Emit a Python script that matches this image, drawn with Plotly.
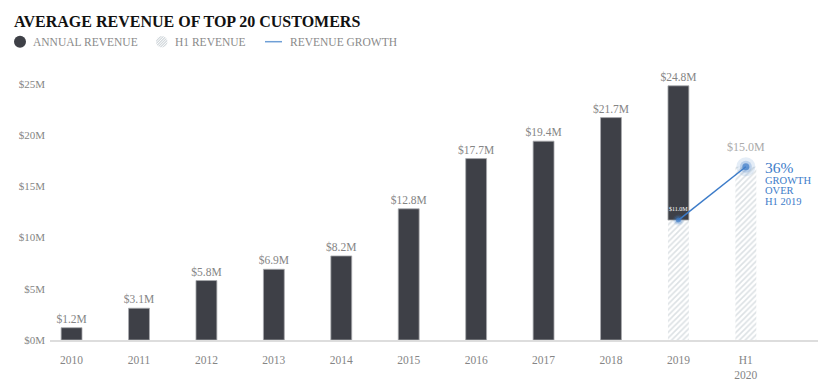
import plotly.graph_objects as go

# ---------------- data ----------------
categories = ["2010", "2011", "2012", "2013", "2014", "2015", "2016", "2017", "2018", "2019", "H1<br>2020"]
annual_years = ["2010", "2011", "2012", "2013", "2014", "2015", "2016", "2017", "2018", "2019"]
annual_revenue = [1.2, 3.1, 5.8, 6.9, 8.2, 12.8, 17.7, 19.4, 21.7, 24.8]
h1_periods = ["2019", "H1<br>2020"]
h1_revenue = [11.7, 16.9]          # bar heights as drawn in the picture
h1_labels = ["$11.0M", "$15.0M"]   # labels as printed
growth_text = "36%"
growth_sub = ["GROWTH", "OVER", "H1 2019"]
y_ticks = [0, 5, 10, 15, 20, 25]
y_tick_labels = ["$0M", "$5M", "$10M", "$15M", "$20M", "$25M"]

# ---------------- styling ----------------
FONT = "Liberation Serif"
DARK = "#3e4047"
HATCH = "#b9c3c9"
BLUE = "#3d7cc9"
GREY = "#858585"

OFF = 8                      # page body margin
PAGE_W, PAGE_H = 834, 387
W, H = PAGE_W - OFF, PAGE_H - OFF
# plot area in page pixels: x 50..818, y ..340
L, R, T, B = 50 - OFF, PAGE_W - 818, 68 - OFF, PAGE_H - 340
PW, PH = W - L - R, H - T - B


def px(x):  # page x pixel -> paper
    return (x - OFF - L) / PW


def py(y):  # page y pixel -> paper
    return (PAGE_H - B - y) / PH


h1_map = dict(zip(h1_periods, h1_revenue))
bases = [h1_map.get(c, 0) for c in annual_years]
lengths = [v - b for v, b in zip(annual_revenue, bases)]

fig = go.Figure()

fig.add_trace(go.Bar(
    x=h1_periods, y=h1_revenue, width=0.31, showlegend=False,
    marker=dict(color="white", line=dict(width=0),
                pattern=dict(shape="/", fgcolor=HATCH, bgcolor="white", size=4, solidity=0.4)),
    hoverinfo="skip",
))

fig.add_trace(go.Bar(
    x=annual_years, y=lengths, base=bases, width=0.31, showlegend=False,
    marker=dict(color=DARK, line=dict(color="#a9abae", width=0.8)),
    text=[f"${v:.1f}M" for v in annual_revenue], textposition="outside",
    constraintext="none",
    textfont=dict(family=FONT, size=11.5, color=GREY), cliponaxis=False,
))

fig.add_trace(go.Scatter(
    x=h1_periods, y=h1_revenue, mode="lines", showlegend=False,
    line=dict(color=BLUE, width=1.5),
))

fig.add_trace(go.Scatter(
    x=h1_periods, y=h1_revenue, mode="markers+text", showlegend=False,
    marker=dict(size=[11, 19], color="rgba(61,124,201,0.2)", line=dict(width=0)),
    text=h1_labels, textposition="top center",
    textfont=dict(family=FONT, size=[6, 12], color=["white", "#aaaaaa"]),
    cliponaxis=False,
))
fig.add_trace(go.Scatter(
    x=h1_periods, y=h1_revenue, mode="markers", showlegend=False,
    marker=dict(size=[8, 12], color="rgba(61,124,201,0.35)", line=dict(width=0)),
))
fig.add_trace(go.Scatter(
    x=h1_periods, y=h1_revenue, mode="markers", showlegend=False,
    marker=dict(size=[5, 7], color=BLUE, line=dict(width=0)),
))

# growth annotations
fig.add_annotation(x=h1_periods[1], y=h1_revenue[1], xref="x", yref="y",
                   text=growth_text, showarrow=False, xanchor="left", yanchor="middle",
                   xshift=17, yshift=-1, font=dict(family=FONT, size=15.5, color=BLUE))
for i, line in enumerate(growth_sub):
    fig.add_annotation(x=h1_periods[1], y=h1_revenue[1], xref="x", yref="y",
                       text=line, showarrow=False, xanchor="left", yanchor="middle",
                       xshift=17, yshift=-13.5 - 10.5 * i,
                       font=dict(family=FONT, size=10.5, color=BLUE))

# manual legend
LY = 41.7
shapes = [
    dict(type="circle", xref="paper", yref="paper", x0=px(14), x1=px(26), y0=py(LY + 6), y1=py(LY - 6),
         fillcolor=DARK, line=dict(width=0)),
    dict(type="circle", xref="paper", yref="paper", x0=px(156), x1=px(167.5), y0=py(LY + 5.75), y1=py(LY - 5.75),
         fillcolor="#d3d9dd", line=dict(width=0)),
    dict(type="line", xref="paper", yref="paper", x0=px(265), x1=px(282), y0=py(LY), y1=py(LY),
         line=dict(color="#6f9fd6", width=1.5)),
]
for k in range(-3, 4):
    off = k * 2.6
    shapes.append(dict(type="line", xref="paper", yref="paper",
                       x0=px(155 + off), x1=px(169 + off), y0=py(LY + 7), y1=py(LY - 7),
                       line=dict(color="white", width=1)))
fig.update_layout(shapes=shapes)
for txt, x0 in [("ANNUAL REVENUE", 31), ("H1 REVENUE", 173), ("REVENUE GROWTH", 288)]:
    fig.add_annotation(x=px(x0), y=py(LY), xref="paper", yref="paper", text=txt,
                       showarrow=False, xanchor="left", yanchor="middle",
                       font=dict(family=FONT, size=11.5, color="#8a8a8a"))

fig.update_layout(
    width=W, height=H,
    margin=dict(l=L, r=R, t=T, b=B, autoexpand=False),
    paper_bgcolor="white", plot_bgcolor="white",
    barmode="overlay",
    font=dict(family=FONT, color=GREY),
    title=dict(text="<b>AVERAGE REVENUE OF TOP 20 CUSTOMERS</b>", x=(14 - OFF) / W, xanchor="left",
               xref="container", yref="container", y=1 - (21.7 - OFF) / H, yanchor="middle",
               font=dict(family=FONT, size=16, color="#111111")),
    xaxis=dict(type="category", categoryorder="array", categoryarray=categories,
               range=[-0.32, 11.07], showgrid=False, zeroline=False,
               showline=True, linecolor="#dddddd", linewidth=2, ticks="",
               tickfont=dict(family=FONT, size=11.5, color=GREY), ticklabelstandoff=8),
    yaxis=dict(range=[0, PH / 10.25], tickvals=y_ticks, ticktext=y_tick_labels,
               showgrid=False, zeroline=False, showline=False, ticks="",
               tickfont=dict(family=FONT, size=11, color=GREY), ticklabelstandoff=4),
)

fig.write_html("out.html")
